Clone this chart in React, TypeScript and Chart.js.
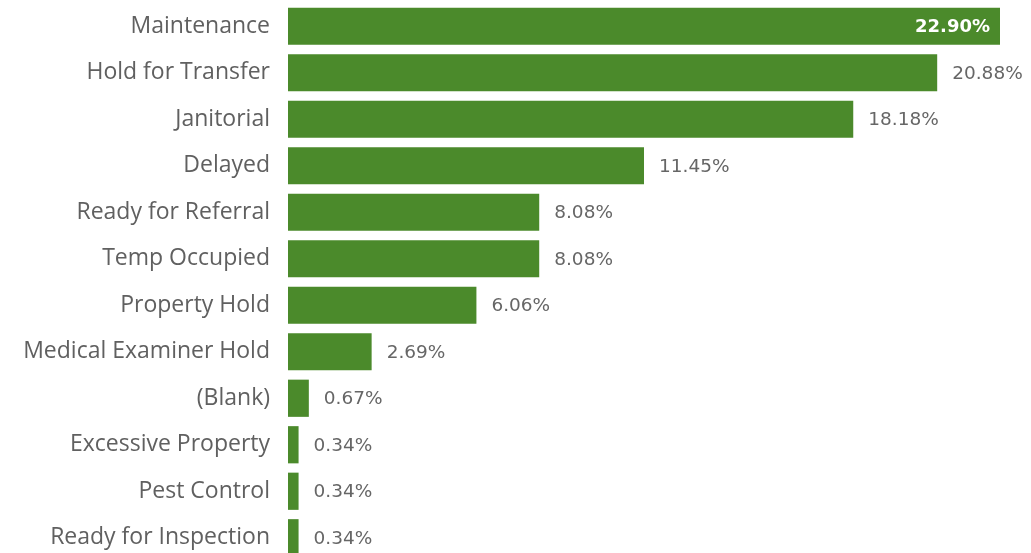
import React, { useEffect, useRef } from "react";
import { Chart, registerables } from "chart.js";

Chart.register(...registerables);

const categories = [
  "Maintenance",
  "Hold for Transfer",
  "Janitorial",
  "Delayed",
  "Ready for Referral",
  "Temp Occupied",
  "Property Hold",
  "Medical Examiner Hold",
  "(Blank)",
  "Excessive Property",
  "Pest Control",
  "Ready for Inspection",
];

const shares = [22.9, 20.88, 18.18, 11.45, 8.08, 8.08, 6.06, 2.69, 0.67, 0.34, 0.34, 0.34];

const valueLabels = ["22.90%", "20.88%", "18.18%", "11.45%", "8.08%", "8.08%", "6.06%", "2.69%", "0.67%", "0.34%", "0.34%", "0.34%"];

const BAR_COLOR = "#4b8a2b";

const labelPlugin = {
  id: "customLabels",
  afterDatasetsDraw(chart: any) {
    const ctx = chart.ctx;
    const meta = chart.getDatasetMeta(0);
    const area = chart.chartArea;
    const yScale = chart.scales.y;
    ctx.save();
    ctx.textBaseline = "middle";
    ctx.font = "23px 'Open Sans', sans-serif";
    ctx.fillStyle = "#606060";
    ctx.textAlign = "right";
    categories.forEach((c, i) => {
      const y = yScale.getPixelForTick(i);
      ctx.fillText(c, area.left - 18, y);
    });
    meta.data.forEach((bar: any, i: number) => {
      const text = valueLabels[i];
      ctx.font = "18.5px 'DejaVu Sans', sans-serif";
      const w = ctx.measureText(text).width;
      if (bar.x + 15 + w > chart.width - 2) {
        ctx.font = "bold 18px 'DejaVu Sans', sans-serif";
        ctx.fillStyle = "#ffffff";
        ctx.textAlign = "right";
        ctx.fillText(text, bar.x - 10, bar.y + 1);
      } else {
        ctx.fillStyle = "#666666";
        ctx.textAlign = "left";
        ctx.fillText(text, bar.x + 15, bar.y + 1);
      }
    });
    ctx.restore();
  },
};

export default function App() {
  const ref = useRef<HTMLCanvasElement | null>(null);

  useEffect(() => {
    if (!ref.current) return;
    const chart = new Chart(ref.current, {
      type: "bar",
      data: {
        labels: categories,
        datasets: [
          {
            data: shares,
            backgroundColor: BAR_COLOR,
            barPercentage: 0.8,
            categoryPercentage: 1,
          },
        ],
      },
      options: {
        indexAxis: "y",
        animation: false,
        responsive: false,
        maintainAspectRatio: false,
        layout: { padding: { top: 3, right: 31, bottom: 0, left: 0 } },
        plugins: {
          legend: { display: false },
          tooltip: { enabled: false },
        },
        scales: {
          x: {
            display: false,
            min: 0,
            max: 22.9,
          },
          y: {
            grid: { display: false, drawTicks: false },
            border: { display: false },
            ticks: { display: false },
            afterFit(scale: any) {
              scale.width = 288;
              scale.paddingTop = 0;
              scale.paddingBottom = 0;
            },
          },
        },
      },
      plugins: [labelPlugin],
    });
    return () => chart.destroy();
  }, []);

  return (
    <div style={{ position: "fixed", left: 0, top: 0, width: 1031, height: 553, overflow: "hidden", background: "#ffffff" }}>
      <canvas ref={ref} width={1031} height={561} style={{ width: 1031, height: 561, display: "block" }} />
    </div>
  );
}
